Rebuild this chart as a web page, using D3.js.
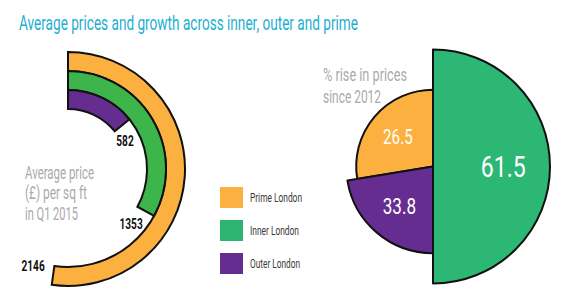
<!DOCTYPE html>
<html><head><meta charset="utf-8">
<script src="https://cdn.jsdelivr.net/npm/d3@7"></script>
<style>body{margin:0;background:#fff}svg{display:block}</style>
</head><body>
<svg id="c" width="570" height="300"></svg>
<script>
const titleText = "Average prices and growth across inner, outer and prime";
const regions = ["Prime London", "Inner London", "Outer London"];
const pricePerSqFt = [2146, 1353, 582];
const riseSince2012 = [26.5, 61.5, 33.8];
// angular share (% of the circle) of each wedge
const sliceShare = [27.6, 50, 22.4];
const priceColors = ["#FBB040", "#3DB54A", "#662D91"];
const riseColors = ["#FBB040", "#2DB774", "#662D91"];
const legendColors = ["#FBB040", "#2DB46E", "#662D91"];
const priceNote = ["Average price", "(£) per sq ft", "in Q1 2015"];
const riseNote = ["% rise in prices", "since 2012"];

const FONT = "Roboto, 'Liberation Sans', sans-serif";
const svg = d3.select("#c");
const deg = Math.PI / 180;

// squeeze a text to the condensed width of the original face
function fit(sel, w) {
  return sel.attr("textLength", w).attr("lengthAdjust", "spacingAndGlyphs");
}

// Title
fit(svg.append("text").attr("x", 19).attr("y", 30)
  .attr("font-family", FONT).attr("font-size", 21).attr("fill", "#1DAFD0")
  .text(titleText), 339);

// ---- Left: radial bars ----
const gL = svg.append("g").attr("transform", "translate(68,169)");
const ring = d3.scaleBand().domain(regions).range([117, 60]);
const ang = d3.scaleLinear().domain([0, d3.max(pricePerSqFt)]).range([0, 188 * deg]);
const arc = d3.arc();
regions.forEach((r, i) => {
  const inner = ring(r), outer = inner + ring.bandwidth();
  gL.append("path")
    .attr("d", arc({innerRadius: inner, outerRadius: outer, startAngle: 0, endAngle: ang(pricePerSqFt[i])}))
    .attr("fill", priceColors[i]).attr("stroke", "#111").attr("stroke-width", 2);
});
regions.forEach((r, i) => {
  const inner = ring(r);
  const a = ang(pricePerSqFt[i]) + 12 * deg, rr = inner + 4;
  const s = String(pricePerSqFt[i]);
  fit(gL.append("text").attr("x", rr * Math.sin(a)).attr("y", -rr * Math.cos(a))
    .attr("text-anchor", "middle").attr("dy", "0.42em")
    .attr("font-family", FONT).attr("font-weight", "bold").attr("font-size", 15).attr("fill", "#111")
    .text(s), s.length * 5.8);
});
const noteW = [69, 62, 53];
priceNote.forEach((t, i) => {
  fit(svg.append("text").attr("x", 25).attr("y", 178.5 + i * 20.6)
    .attr("font-family", FONT).attr("font-size", 18.5).attr("fill", "#A9AAAD")
    .text(t), noteW[i]);
});

// ---- Legend ----
const legY = d3.scalePoint().domain(regions).range([187, 253]);
const legW = [52, 49, 50];
regions.forEach((r, i) => {
  svg.append("rect").attr("x", 220).attr("y", legY(r)).attr("width", 23).attr("height", 21)
    .attr("fill", legendColors[i]);
  fit(svg.append("text").attr("x", 250).attr("y", legY(r) + 15)
    .attr("font-family", FONT).attr("font-size", 13).attr("fill", "#3a3a3a")
    .text(r), legW[i]);
});

// ---- Right: polar area ----
const gR = svg.append("g").attr("transform", "translate(433,166.5)");
const order = [1, 2, 0]; // clockwise from 12 o'clock: Inner, Outer, Prime
const pie = d3.pie().sort(null).value(i => sliceShare[i]);
const rScale = d3.scaleSqrt().domain([0, d3.max(riseSince2012)]).range([0, 117]);
const slices = pie(order);
[slices[2], slices[1], slices[0]].forEach(s => {
  const i = s.data;
  gR.append("path")
    .attr("d", arc({innerRadius: 0, outerRadius: rScale(riseSince2012[i]), startAngle: s.startAngle, endAngle: s.endAngle}))
    .attr("fill", riseColors[i]).attr("stroke", "#111").attr("stroke-width", 2).attr("stroke-linejoin", "round");
});
const labelSize = d3.scaleSqrt().domain([0, d3.max(riseSince2012)]).range([0, 30]);
slices.forEach(s => {
  const i = s.data;
  const a = (s.startAngle + s.endAngle) / 2, rr = rScale(riseSince2012[i]) * 0.6;
  const fs = labelSize(riseSince2012[i]);
  fit(gR.append("text").attr("x", rr * Math.sin(a)).attr("y", -rr * Math.cos(a))
    .attr("text-anchor", "middle").attr("dy", "0.36em")
    .attr("font-family", FONT).attr("font-size", fs).attr("fill", "#fff")
    .text(riseSince2012[i].toFixed(1)), fs * 1.5);
});
const riseW = [84, 58];
riseNote.forEach((t, i) => {
  fit(svg.append("text").attr("x", 323).attr("y", 81 + i * 22)
    .attr("font-family", FONT).attr("font-size", 18.5).attr("fill", "#A9AAAD")
    .text(t), riseW[i]);
});
</script>
</body></html>
